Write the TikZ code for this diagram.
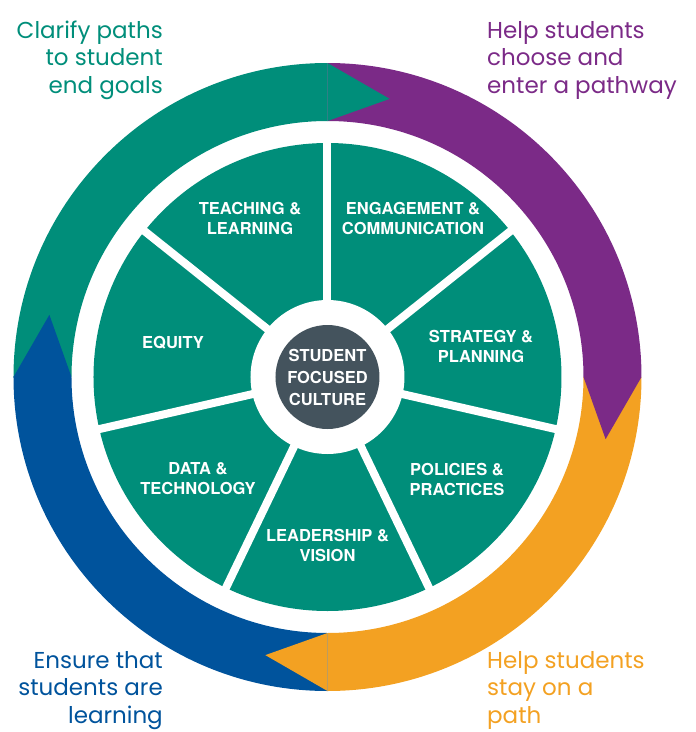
\documentclass[tikz,border=0pt]{standalone}
\usepackage{fontspec}
\usepackage{tikz}
\usetikzlibrary{positioning}
\newfontfamily\pathfont{Poppins}
\newfontfamily\wheelfont{TeX Gyre Heros}
\definecolor{cteal}{HTML}{008E7A}
\definecolor{cpurple}{HTML}{7B2A87}
\definecolor{corange}{HTML}{F3A122}
\definecolor{cblue}{HTML}{00539C}
\definecolor{cslate}{HTML}{44535D}
\tikzset{
  sector/.style={text=white, align=center, inner sep=0pt,
    font=\wheelfont\bfseries\fontsize{16.5}{20}\selectfont},
  pathlabel/.style={inner sep=0pt, font=\pathfont\fontsize{23}{27.5}\selectfont}
}

\begin{document}
\begin{tikzpicture}[x=1pt,y=1pt]
		\def\Rout{314pt}
		\def\Rin{256pt}
		\def\Rmid{285pt}
		\def\wheel{234pt}
		\useasboundingbox (-327.5,-355) rectangle (368.5,377);
		% anello esterno, quattro quarti
		\foreach \c/\s in {cteal/180,cpurple/90,corange/0,cblue/-90}
			\fill[\c] (\s:\Rin) arc (\s:\s-90:\Rin) -- (\s-90:\Rout) arc (\s-90:\s:\Rout) -- cycle;
		% punte delle frecce
		\foreach \c/\e in {cteal/90,cpurple/0,corange/-90,cblue/180}
			\fill[\c] (\e:\Rin) -- (\e:\Rout) -- (\e-12.6:\Rmid) -- cycle;
		% ruota con sette settori
		\fill[cteal] (0,0) circle (\wheel);
		\foreach \k in {0,...,6}
			\draw[white, line width=8pt] (0,0) -- (90+\k*360/7:240pt);
		\fill[white] (0,0) circle (77pt);
		\node[circle, fill=cslate, minimum size=104pt, sector, align=center,
			font=\wheelfont\bfseries\fontsize{16.5}{22}\selectfont] (core) at (0,0)
			{STUDENT\\FOCUSED\\CULTURE};
		% etichette dei settori
		\node[sector] (teach) at (-77.5,159) {TEACHING \&\\LEARNING};
		\node[sector] (engage) at (85.5,159) {ENGAGEMENT \&\\COMMUNICATION};
		\node[sector] (equity) at (-154.5,34) {EQUITY};
		\node[sector] (strat) at (153.5,31) {STRATEGY \&\\PLANNING};
		\node[sector] (data) at (-129.5,-102) {DATA \&\\TECHNOLOGY};
		\node[sector] (policy) at (129.5,-102) {POLICIES \&\\PRACTICES};
		\node[sector] (lead) at (0,-168) {LEADERSHIP \&\\VISION};
		% testi esterni (base = ultima riga)
		\node[pathlabel, text=cteal, align=right, anchor=base east] (clarify) at (-164.5,284)
			{Clarify paths\\to student\\end goals};
		\node[pathlabel, text=cpurple, align=left, anchor=base west] (choose) at (159.5,284)
			{Help students\\choose and\\enter a pathway};
		\node[pathlabel, text=cblue, align=right, anchor=base east] (ensure) at (-164.5,-346)
			{Ensure that\\students are\\learning};
		\node[pathlabel, text=corange, align=left, anchor=base west] (stay) at (159.5,-346)
			{Help students\\stay on a\\path};
	\end{tikzpicture}
\end{document}
